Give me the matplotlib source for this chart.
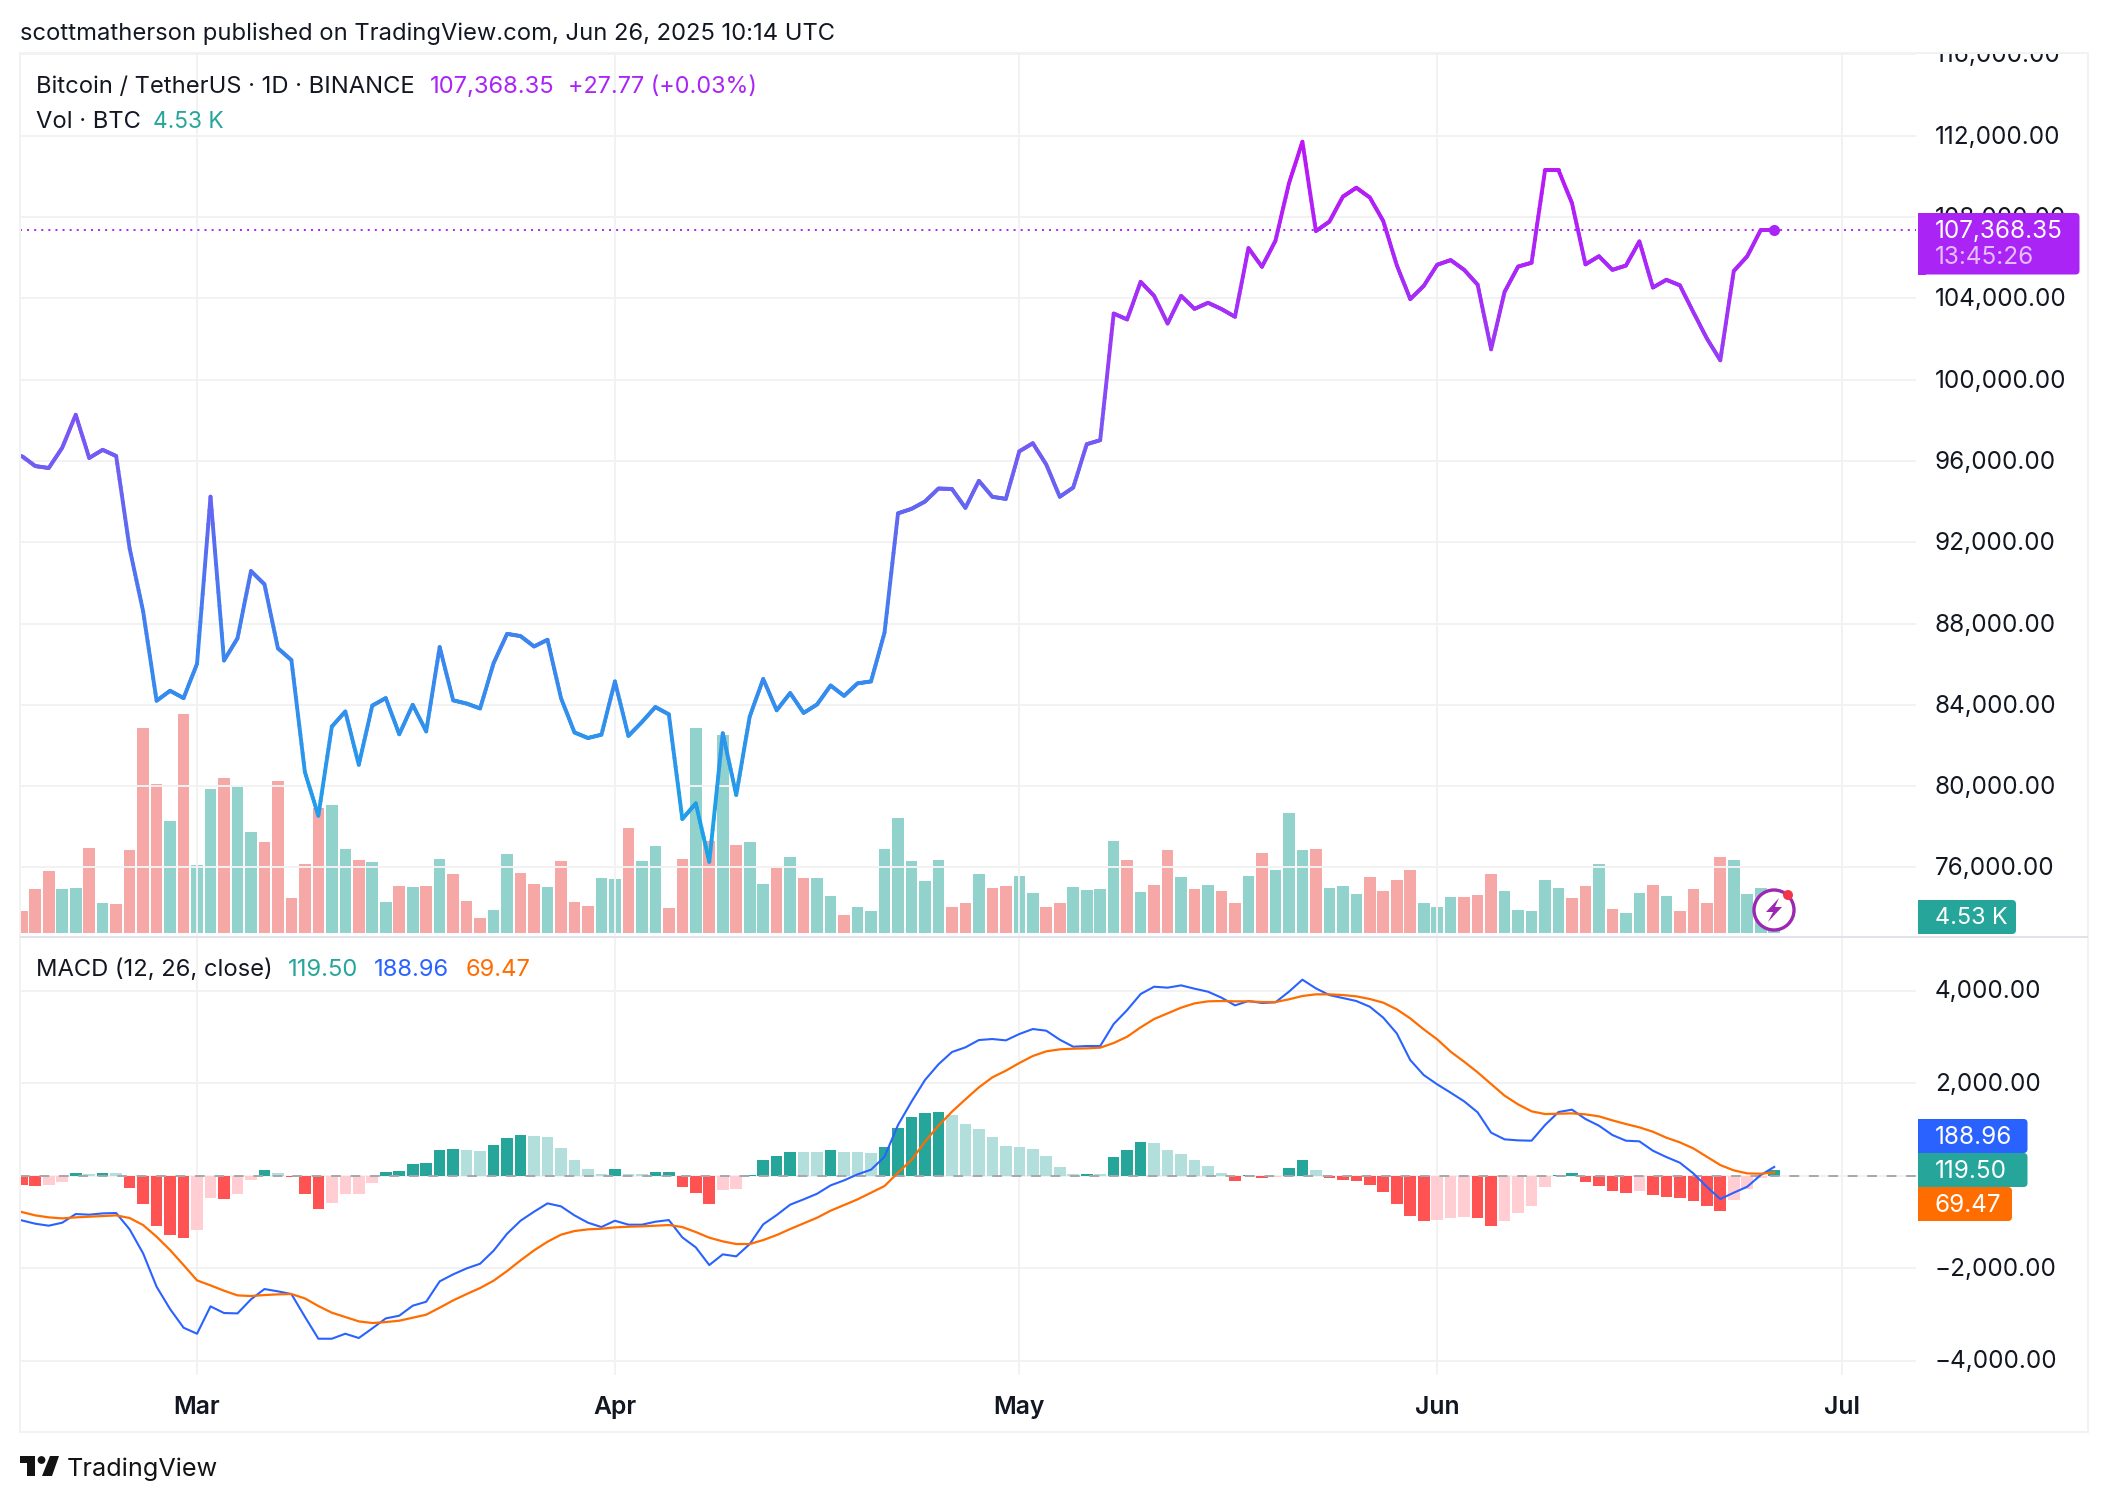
import numpy as np
import pandas as pd
import matplotlib
matplotlib.use("Agg")
import matplotlib.pyplot as plt
import matplotlib.dates as mdates
from matplotlib.collections import LineCollection
from matplotlib.colors import LinearSegmentedColormap, Normalize
from matplotlib.patches import Rectangle, FancyBboxPatch, Polygon, Circle
from matplotlib.transforms import Affine2D
from matplotlib.ticker import FuncFormatter

# ---------- data ----------
dates = pd.date_range("2025-02-16", periods=131, freq="D")

price = [
    96240, 95745, 95650, 96650, 98270, 96145, 96545, 96240, 91690, 88600,
    84200, 84690, 84330, 86020, 94240, 86180, 87270, 90580, 89930, 86780,
    86200, 80690, 78545, 82930, 83670, 81050, 83960, 84330, 82550, 84000,
    82690, 86840, 84220, 84060, 83820, 86050, 87490, 87380, 86870, 87200,
    84330, 82640, 82365, 82530, 85150, 82470, 83150, 83890, 83530, 78380,
    79150, 76275, 82600, 79565, 83420, 85270, 83730, 84580, 83600, 84020,
    84950, 84440, 85055, 85150, 87550, 93420, 93640, 94000, 94640, 94620,
    93690, 95020, 94235, 94130, 96470, 96870, 95820, 94235, 94690, 96820,
    97020, 103250, 102960, 104810, 104120, 102760, 104120, 103480, 103780, 103470,
    103090, 106470, 105550, 106830, 109650, 111700, 107310, 107770, 109000, 109440,
    108960, 107800, 105630, 103960, 104610, 105650, 105880, 105400, 104670, 101490,
    104320, 105560, 105750, 110300, 110300, 108680, 105670, 106070, 105400, 105610,
    106800, 104530, 104910, 104640, 103320, 102030, 100950, 105340, 106070, 107360,
    107368.35,
]

volume_k = [
    5.5, 11.0, 15.5, 11.0, 11.3, 21.3, 7.5, 7.2, 20.7, 51.2,
    37.3, 28.0, 54.8, 17.0, 36.0, 38.8, 36.5, 25.3, 22.8, 38.0,
    8.8, 17.3, 31.3, 32.0, 21.0, 18.2, 17.8, 7.8, 11.7, 11.5,
    11.7, 18.5, 14.7, 8.0, 3.8, 5.7, 19.8, 15.0, 12.2, 11.5,
    18.0, 7.8, 6.8, 13.8, 13.5, 26.3, 18.0, 21.7, 6.3, 18.5,
    51.2, 23.1, 49.5, 22.0, 22.8, 12.2, 16.3, 19.0, 13.8, 13.8,
    9.3, 4.5, 6.5, 5.5, 21.0, 28.8, 18.0, 13.0, 18.2, 6.5,
    7.5, 14.7, 11.3, 11.7, 14.2, 10.0, 6.5, 7.5, 11.5, 10.7,
    11.0, 23.0, 18.2, 10.3, 12.0, 20.7, 14.0, 11.0, 12.0, 10.5,
    7.5, 14.2, 20.0, 15.7, 30.0, 20.7, 21.0, 11.3, 11.7, 9.7,
    14.0, 10.5, 13.3, 15.8, 7.6, 6.6, 9.1, 9.1, 9.6, 14.8,
    10.5, 5.7, 5.5, 13.3, 11.3, 8.8, 11.8, 17.3, 6.0, 5.1,
    10.0, 12.0, 9.3, 5.4, 11.0, 7.6, 19.1, 18.2, 9.7, 11.3,
    4.53,
]
volume_dir = ("rrrggrgrrr" "rgrggrggrr" "rrrggrggrg" "rgrrrggrrg" "rrrggrggrr"
              "grgrggrgrg" "grgggggggr" "rgrrggrrgg" "ggrgrrgrgr" "rgrgggrggg"
              "rrrrgggrrr" "gggggrrgrg" "grgrrrrggg" "g")

macd_hist = [
    -194, -216, -194, -130, 65, 43, 65, 65, -259, -605,
    -1080, -1274, -1339, -1166, -475, -497, -389, -86, 130, 65,
    -20, -389, -713, -583, -389, -389, -151, 86, 108, 259,
    281, 562, 583, 562, 540, 670, 821, 886, 864, 842,
    605, 346, 151, 43, 151, 43, 43, 86, 86, -238,
    -367, -605, -302, -281, 22, 346, 432, 518, 518, 518,
    562, 518, 518, 497, 626, 1037, 1274, 1361, 1382, 1318,
    1123, 1015, 842, 648, 626, 583, 432, 194, 43, 43,
    43, 410, 562, 734, 713, 562, 475, 346, 216, 65,
    -108, 22, -43, -22, 173, 346, 130, -43, -86, -108,
    -194, -346, -605, -864, -972, -950, -907, -886, -907, -1080,
    -972, -799, -648, -238, 22, 65, -130, -216, -324, -367,
    -324, -410, -454, -475, -540, -648, -756, -518, -281, -50,
    119.50,
]
macd_kind = ("RRPPDLDLRR" "RRRPPRPPDL" "RRRPPPPDDD" "DDDLLDDDLL" "LLLLDLLDDR"
             "RRPPDDDDLL" "DLLLDDDDDL" "LLLLLLLLLD" "LDDDLLLLLL" "RDRPDDLRRR"
             "RRRRRPPPRR" "PPPPDDRRRR" "PRRRRRRPPP" "D")

macd_line = [
    -965, -1037, -1080, -1015, -828, -842, -814, -806, -1159, -1678,
    -2398, -2880, -3283, -3413, -2822, -2966, -2974, -2671, -2448, -2498,
    -2556, -3046, -3521, -3521, -3413, -3506, -3298, -3082, -3024, -2808,
    -2722, -2282, -2131, -2002, -1901, -1620, -1253, -972, -778, -598,
    -662, -857, -1015, -1109, -972, -1058, -1058, -994, -958, -1332,
    -1548, -1930, -1699, -1742, -1476, -1051, -850, -626, -511, -389,
    -209, -101, 29, 130, 410, 1094, 1598, 2066, 2405, 2671,
    2772, 2930, 2952, 2923, 3060, 3168, 3132, 2938, 2786, 2801,
    2801, 3276, 3578, 3924, 4082, 4061, 4111, 4039, 3974, 3845,
    3679, 3773, 3730, 3744, 3974, 4234, 4046, 3902, 3838, 3773,
    3650, 3413, 3074, 2498, 2174, 1973, 1793, 1606, 1368, 929,
    785, 763, 756, 1094, 1375, 1426, 1224, 1080, 878, 756,
    742, 540, 403, 281, 50, -238, -504, -367, -238, 14,
    188.96,
]
signal_line = [
    -785, -857, -900, -922, -900, -886, -871, -857, -914, -1066,
    -1318, -1606, -1930, -2261, -2369, -2484, -2585, -2599, -2578, -2563,
    -2556, -2650, -2815, -2959, -3053, -3146, -3182, -3161, -3132, -3067,
    -3002, -2851, -2693, -2556, -2426, -2268, -2059, -1829, -1613, -1426,
    -1274, -1195, -1159, -1145, -1116, -1102, -1094, -1080, -1066, -1109,
    -1217, -1339, -1418, -1476, -1476, -1390, -1282, -1152, -1030, -907,
    -756, -634, -511, -367, -223, 65, 338, 734, 1080, 1382,
    1649, 1908, 2124, 2268, 2434, 2585, 2686, 2729, 2743, 2750,
    2765, 2866, 3002, 3204, 3384, 3506, 3629, 3722, 3766, 3773,
    3766, 3766, 3751, 3751, 3809, 3881, 3917, 3917, 3902, 3874,
    3816, 3737, 3593, 3398, 3161, 2945, 2678, 2462, 2232, 1980,
    1728, 1541, 1390, 1332, 1339, 1346, 1325, 1282, 1195, 1116,
    1044, 950, 821, 720, 590, 410, 230, 115, 50, 43,
    69.47,
]

price_ticks = [76000, 80000, 84000, 88000, 92000, 96000, 100000, 104000, 108000, 112000, 116000]
macd_ticks = [-4000, -2000, 2000, 4000]
month_ticks = pd.to_datetime(["2025-03-01", "2025-04-01", "2025-05-01", "2025-06-01", "2025-07-01"])
month_labels = ["Mar", "Apr", "May", "Jun", "Jul"]

# ---------- style ----------
W, H = 2108, 1502
FONT = "Inter"
plt.rcParams["font.family"] = [FONT, "DejaVu Sans"]
FS = 17.1
FS_AXIS = 17.5
DARK = "#131722"
GRID = "#f2f2f3"
PURPLE = "#ab24f6"
TEAL = "#26a69a"
BLUE = "#2962ff"
ORANGE = "#ff6d00"

fig = plt.figure(figsize=(W / 100, H / 100), dpi=100, facecolor="white")
px = Affine2D().scale(1, -1).translate(0, H)


def pane(x0, y0, x1, y1, **kw):
    return fig.add_axes([x0 / W, 1 - y1 / H, (x1 - x0) / W, (y1 - y0) / H], **kw)


def lift_labels(axis_obj, dy):
    for lab in axis_obj.get_yticklabels():
        lab.set_transform(lab.get_transform() + Affine2D().translate(0, dy))


PL, PR = 20, 1916
x0_date = mdates.date2num(dates[0])
xlim = (x0_date + (PL - 21.8) / 13.48, x0_date + (PR - 21.8) / 13.48)

# --- volume (behind price) ---
ax_vol = pane(PL, 53, PR, 936, zorder=1)
ax_vol.set_xlim(*xlim)
ax_vol.set_ylim(-0.75, (933 - 53) * 0.25)
vol_colors = ["#26a69a" if c == "g" else "#ef5350" for c in volume_dir]
ax_vol.bar(dates, volume_k, width=0.86, color=vol_colors, alpha=0.5, linewidth=0)
ax_vol.set_axis_off()

# --- price ---
ax = pane(PL, 53, PR, 936, zorder=2)
ax.patch.set_visible(False)
ax.set_xlim(*xlim)
ax.set_ylim(96000 + (460.9 - 936) * 4000 / 81.3, 96000 + (460.9 - 53) * 4000 / 81.3)
ax.yaxis.tick_right()
ax.set_yticks(price_ticks)
ax.yaxis.set_major_formatter(FuncFormatter(lambda v, _: f"{v:,.2f}"))
ax.set_xticks(month_ticks)
ax.set_xticklabels([])
ax.grid(True, color=GRID, lw=1.4)
ax.set_axisbelow(True)
ax.tick_params(length=0, labelsize=FS_AXIS, labelcolor=DARK, pad=13.5)
for s in ax.spines.values():
    s.set_visible(False)

grad = LinearSegmentedColormap.from_list(
    "tv", [(0.0, "#17a6e8"), (0.18, "#2e93ec"), (0.32, "#3f82f0"), (0.45, "#5a6cf2"),
           (0.6, "#7a57f5"), (0.72, "#9c38f7"), (0.85, "#ad24f8"), (1.0, "#bd16f5")])
norm = Normalize(76000, 112000)
xnum = mdates.date2num(dates)
pr = np.asarray(price, float)
ax.plot(dates, pr, color="#7a57f5", lw=1.0, zorder=3)
segs, cols = [], []
for i in range(len(pr) - 1):
    ts = np.linspace(0, 1, 13)
    xs = xnum[i] + (xnum[i + 1] - xnum[i]) * ts
    ys = pr[i] + (pr[i + 1] - pr[i]) * ts
    for j in range(12):
        segs.append([(xs[j], ys[j]), (xs[j + 1], ys[j + 1])])
        cols.append(grad(norm((ys[j] + ys[j + 1]) / 2)))
ax.add_collection(LineCollection(segs, colors=cols, linewidths=2.8, capstyle="round",
                                 joinstyle="round", zorder=4))
ax.axhline(price[-1], color=PURPLE, lw=1.4, ls=(0, (1, 2.65)), zorder=3)
ax.plot(dates[-1], price[-1], "o", color=PURPLE, ms=8, mew=0, zorder=5)

# --- MACD ---
ax2 = pane(PL, 938, PR, 1375, zorder=2)
ax2.set_xlim(*xlim)
ax2.set_ylim((1175.7 - 1375) * 2000 / 92.6, (1175.7 - 938) * 2000 / 92.6)
ax2.yaxis.tick_right()
ax2.set_yticks(macd_ticks + [0])
ax2.yaxis.set_major_formatter(FuncFormatter(
    lambda v, _: "" if v == 0 else f"{v:,.2f}".replace("-", "\u2212")))
ax2.set_xticks(month_ticks)
ax2.set_xticklabels(month_labels, fontsize=17.8, fontweight="semibold", color=DARK)
ax2.grid(True, color=GRID, lw=1.4)
ax2.set_axisbelow(True)
ax2.tick_params(axis="y", length=0, labelsize=FS_AXIS, labelcolor=DARK, pad=13.5)
ax2.tick_params(axis="x", length=0, pad=15)
for s in ax2.spines.values():
    s.set_visible(False)
kind_color = {"D": "#26a69a", "L": "#b2dfdb", "R": "#ff5252", "P": "#ffcdd2"}
ax2.bar(dates, macd_hist, width=0.86, color=[kind_color[k] for k in macd_kind], linewidth=0, zorder=2)
ax2.axhline(0, color="#a5a7ad", lw=1.4, ls=(0, (5, 5)), zorder=2.5)
ax2.plot(dates, macd_line, color=BLUE, lw=1.5, zorder=3)
ax2.plot(dates, signal_line, color=ORANGE, lw=1.6, zorder=4)

lift_labels(ax, 1.0)
lift_labels(ax2, 1.5)


# ---------- frame ----------
def frect(x0, y0, x1, y1, color, z=3):
    fig.add_artist(Rectangle((x0, y0), x1 - x0, y1 - y0, transform=px, fc=color, ec="none", zorder=z))


frect(PR, 30, 2100, 53, "white", 2.5)   # crops the top price label at the pane edge
frect(20, 52, 2089, 54, GRID)
frect(19, 52, 21, 1433, GRID)
frect(2087, 52, 2089, 1433, GRID)
frect(19, 1431, 2089, 1433, GRID)
frect(20, 936, 2088, 938, "#e0e3eb")


def box(x0, y0, x1, y1, color):
    fig.add_artist(FancyBboxPatch((x0, y0), x1 - x0, y1 - y0, boxstyle="round,pad=0,rounding_size=4",
                                  transform=px, fc=color, ec="none", zorder=3.5))
    frect(x0, y0, x0 + 8, y1, color, 3.5)


box(1918, 213, 2079.5, 274.5, PURPLE)
box(1918, 900, 2016, 934, TEAL)
box(1918, 1119, 2027.5, 1153, BLUE)
box(1918, 1153, 2027.5, 1187, TEAL)
box(1918, 1187, 2012, 1221, ORANGE)


def label(x, y, s, color=DARK, fs=FS, **kw):
    fig.text(x / W, 1 - y / H, s, color=color, fontsize=fs, va="center", ha="left", zorder=6, **kw)


label(1935, 231, "107,368.35", "white", FS_AXIS)
label(1935, 258, "13:45:26", "#e6bdfc", FS_AXIS)
label(1935, 918, "4.53 K", "white", 16.8)
label(1935, 1137, "188.96", "white", FS_AXIS)
label(1935, 1171, "119.50", "white", FS_AXIS)
label(1935, 1205, "69.47", "white", FS_AXIS)

label(20.5, 33.5, "scottmatherson published on TradingView.com, Jun 26, 2025 10:14 UTC")
label(36.5, 87, "Bitcoin / TetherUS \u00b7 1D \u00b7 BINANCE")
label(430, 87, "107,368.35", PURPLE)
label(568, 87, "+27.77 (+0.03%)", PURPLE, fs=16.8)
label(36.5, 121.5, "Vol \u00b7 BTC")
label(153, 121.5, "4.53 K", TEAL, fs=16.4)
label(36.5, 970, "MACD (12, 26, close)")
label(288, 970, "119.50", TEAL)
label(374, 970, "188.96", BLUE)
label(466, 970, "69.47", ORANGE)

# ---------- replay badge ----------
fig.add_artist(Circle((1774, 910), 20, transform=px, fc="white", ec="#9c27b0", lw=2.4, zorder=4))
fig.add_artist(Polygon([(1779, 898), (1766, 912), (1773, 912), (1768, 922), (1782, 907), (1775, 907)],
                       transform=px, fc="#9c27b0", ec="none", zorder=4.1))
fig.add_artist(Circle((1788, 895), 5, transform=px, fc="#f23645", ec="none", zorder=4.2))

# ---------- TradingView logo ----------
LOGO = "#131313"
fig.add_artist(Polygon([(20, 1456), (35, 1456), (35, 1476), (27, 1476), (27, 1463), (20, 1463)],
                       transform=px, fc=LOGO, ec="none", zorder=4))
fig.add_artist(Circle((41.5, 1460), 3.9, transform=px, fc=LOGO, ec="none", zorder=4))
fig.add_artist(Polygon([(50, 1456), (59, 1456), (52, 1476), (42, 1476)],
                       transform=px, fc=LOGO, ec="none", zorder=4))
label(66.5, 1469.5, "TradingView", "#131313", fs=18.2)

fig.savefig("out.png", dpi=100)
